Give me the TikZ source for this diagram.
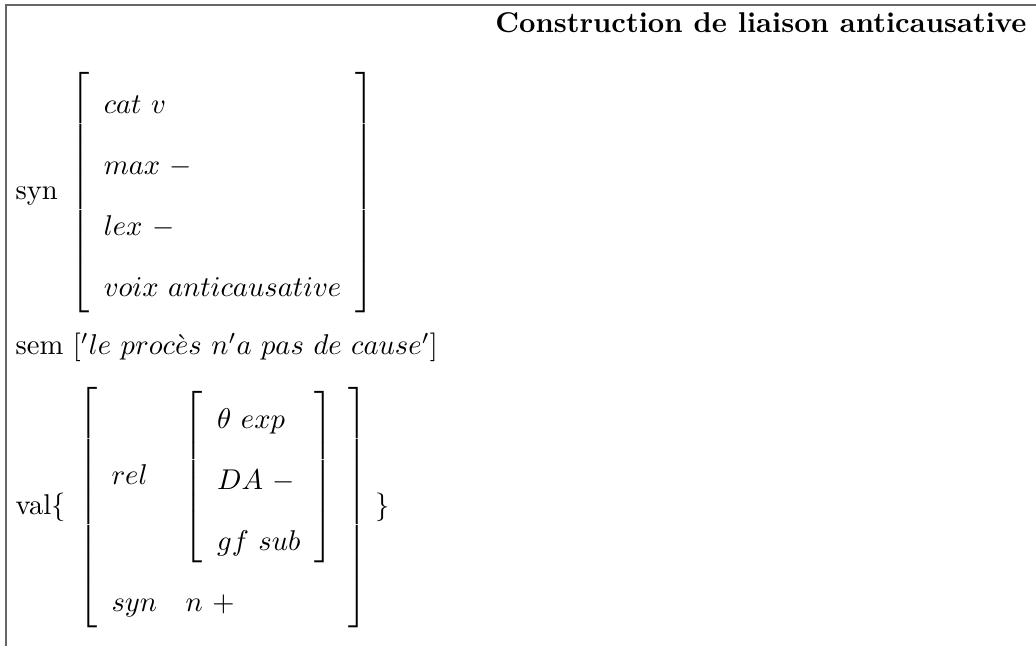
\documentclass[tikz,border=0pt]{standalone}
\usepackage{tikz}
\usetikzlibrary{positioning}

\renewcommand{\arraystretch}{1.78}
\newcommand{\avm}[1]{\left[\begin{array}{l}#1\end{array}\right]}

\begin{document}
\begin{tikzpicture}
 [x=0.3497pt, y=-0.3497pt,
  frame line/.style={draw=black!60, line width=0.7pt},
  label node/.style={inner sep=0pt, anchor=base west},
  avm node/.style={inner sep=0pt, node distance=4pt}]

\useasboundingbox (0,0) rectangle (1036,646);
\draw[frame line] (1036,5) -- (6,5) -- (6,646);

\node[label node, anchor=base east, font=\bfseries] (title) at (1027,33) {Construction de liaison anticausative};

\node[label node] (syn) at (15,200) {syn};
\node[avm node, right=of syn.base east, yshift=2.5pt] (synavm)
  {$\avm{cat~v\\ max~-\\ lex~-\\ voix~anticausative}$};

\node[label node] (sem) at (15,355) {sem $['le~proc\grave{e}s~n'a~pas~de~cause']$};

\node[label node] (val) at (15,515) {val$\{$};
\node[avm node, right=of val.base east, yshift=2.5pt] (valavm)
  {$\avm{rel\hspace{11pt}\avm{\theta~exp\\ DA~-\\ gf~sub}\\ syn\quad n~+}$};
\node[label node, xshift=2.5pt] (valend) at (valavm.east |- val.base) {$\}$};

\end{tikzpicture}
\end{document}
